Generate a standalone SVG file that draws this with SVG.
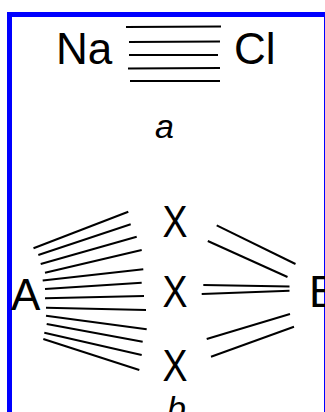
<svg xmlns="http://www.w3.org/2000/svg" width="325" height="412" viewBox="0 0 325 412">
<style>
.t{font-family:"Liberation Sans",Arial,sans-serif;fill:#000}
.big{font-size:44px}
.lab{font-size:34px;font-style:italic}
.b{stroke:#000;stroke-width:2;fill:none;stroke-linecap:butt}
</style>
<rect width="325" height="412" fill="#fff"/>
<rect x="9.5" y="14.5" width="317" height="420" fill="none" stroke="#0000ff" stroke-width="5"/>
<g id="na"><text class="t big" x="56" y="64">Na</text></g>
<g id="cl"><text class="t big" x="234" y="64">Cl</text></g>
<g id="label-a"><text class="t lab" x="155" y="138">a</text></g>
<g id="A"><text class="t big" x="11" y="310">A</text></g>
<g id="X1"><text class="t big" x="175" y="237" text-anchor="middle" textLength="25" lengthAdjust="spacingAndGlyphs">X</text></g>
<g id="X2"><text class="t big" x="175" y="307" text-anchor="middle" textLength="25" lengthAdjust="spacingAndGlyphs">X</text></g>
<g id="X3"><text class="t big" x="175" y="381" text-anchor="middle" textLength="25" lengthAdjust="spacingAndGlyphs">X</text></g>
<g id="B"><text class="t big" x="309" y="307">B</text></g>
<g id="label-b"><text class="t lab" x="167" y="420">b</text></g>
<g id="connectors" class="b">
<line x1="126" y1="27" x2="221" y2="26.5"/>
<line x1="129" y1="42" x2="220" y2="41.5"/>
<line x1="129" y1="55" x2="218" y2="55"/>
<line x1="128" y1="68.5" x2="220" y2="68"/>
<line x1="130" y1="81" x2="220" y2="81"/>
<line x1="33.5" y1="248.3" x2="128.3" y2="211.7"/>
<line x1="38.3" y1="255" x2="130.7" y2="224.3"/>
<line x1="40.7" y1="264" x2="136.7" y2="236.7"/>
<line x1="45" y1="272.7" x2="141.7" y2="250"/>
<line x1="42.7" y1="280.5" x2="143.3" y2="269.3"/>
<line x1="45" y1="289" x2="141.7" y2="282.7"/>
<line x1="45" y1="298.3" x2="144" y2="296"/>
<line x1="46" y1="307.7" x2="146" y2="310"/>
<line x1="46" y1="315.7" x2="146.7" y2="329.3"/>
<line x1="46.7" y1="324" x2="142.7" y2="341.7"/>
<line x1="44.3" y1="332.7" x2="141.7" y2="355"/>
<line x1="43.3" y1="339" x2="139.3" y2="370"/>
<line x1="216.7" y1="225.3" x2="295.5" y2="264"/>
<line x1="207.8" y1="241" x2="287.5" y2="277"/>
<line x1="203.3" y1="285" x2="289.5" y2="286.5"/>
<line x1="201.7" y1="294" x2="289.5" y2="290.7"/>
<line x1="206.7" y1="339" x2="290" y2="314"/>
<line x1="211" y1="356.7" x2="294" y2="326.7"/>
</g>
</svg>
